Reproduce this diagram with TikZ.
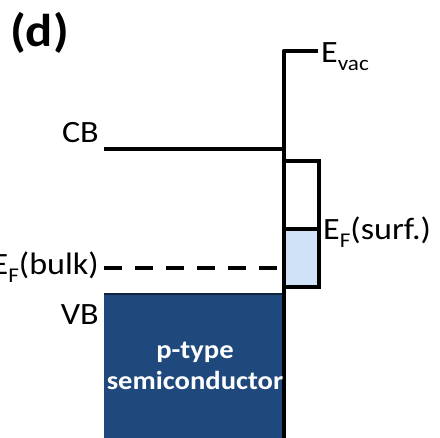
\documentclass[tikz,border=0pt]{standalone}
\usepackage{fontspec}
\setmainfont{Carlito}[FakeStretch=1.1]
\usetikzlibrary{positioning}
\definecolor{bulkblue}{RGB}{31,73,125}
\definecolor{surfblue}{RGB}{207,226,247}
\newcommand{\lowsub}[1]{\raisebox{-8pt}{\fontsize{21}{24}\selectfont #1}}

\begin{document}
\begin{tikzpicture}[x=1pt,y=-1pt,
  band/.style={line width=4.5pt},
  lbl/.style={inner sep=0pt,font=\fontsize{31}{36}\selectfont}]
\useasboundingbox (0,0) rectangle (440,438);
% bulk valence band
\fill[bulkblue] (104,293) rectangle (284,440);
\draw[line width=2.5pt,bulkblue!50!black] (104,294) -- (284,294);
% occupied surface states
\fill[surfblue] (284,229) rectangle (319,287);
\coordinate (vac) at (318,51);
\coordinate (vacc) at (284,51);
\coordinate (surfb) at (284,440);
\coordinate (cbl) at (104,149);
\coordinate (cbr) at (284,149);
\coordinate (ssl) at (284,161);
\coordinate (ssr) at (319,161);
\coordinate (ssbl) at (284,287);
\coordinate (ssbr) at (319,287);
\coordinate (efl) at (284,229);
\coordinate (efr) at (319,229);
\coordinate (efbl) at (104,268);
\coordinate (efbr) at (281,268);
\draw[band,line join=round] (vac) -- (vacc) -- (surfb);
\draw[band] (cbl) -- (cbr);
\draw[band,line join=miter] (ssl) -- (ssr) -- (ssbr) -- (ssbl);
\draw[band] (efl) -- (efr);
\draw[band,dash pattern=on 18pt off 13pt] (efbl) -- (efbr);
\node[lbl,anchor=base west] (evac) at (321,63) {E\lowsub{vac}};
\node[lbl,anchor=base east] (cb) at (99,143) {CB};
\node[lbl,anchor=base east] (efbulk) at (99,275) {E\lowsub{F}(bulk)};
\node[lbl,anchor=base east] (vb) at (99,325) {VB};
\node[lbl,anchor=base west] (efsurf) at (323,240) {E\lowsub{F}(surf.)};
\node[inner sep=0pt,text=white,align=center,font=\bfseries\fontsize{26}{31}\selectfont] (ptype) at (195,366) {p-type\\semiconductor};
\node[inner sep=0pt,anchor=base west,font=\bfseries\fontsize{46}{52}\selectfont] (panel) at (10,47) {(d)};
\end{tikzpicture}
\end{document}
